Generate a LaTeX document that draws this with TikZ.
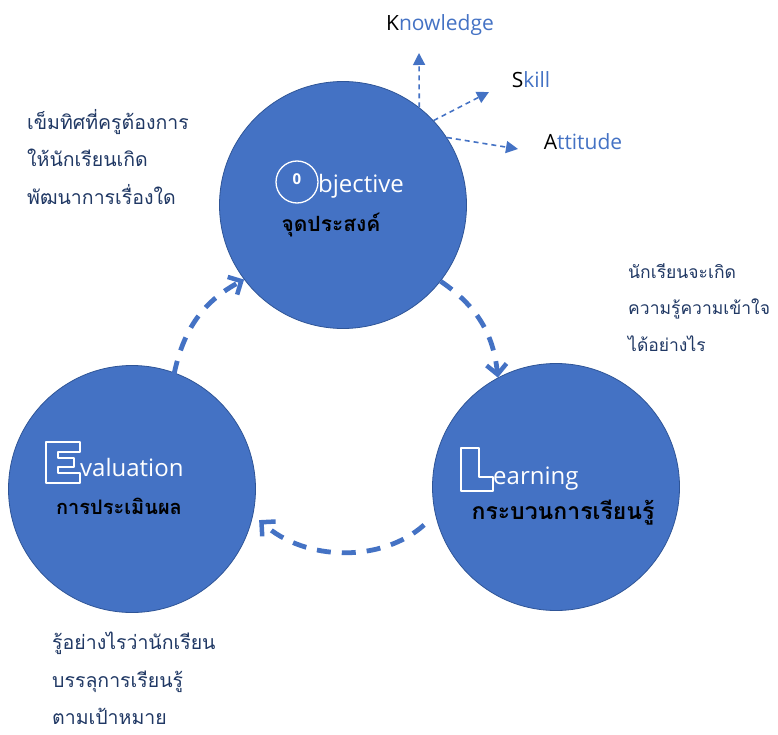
\documentclass[tikz,border=0pt]{standalone}
\usepackage{fontspec}
\setmainfont{Open Sans}
\newfontfamily\thaifont[Script=Thai]{Loma}
\usetikzlibrary{arrows.meta,calc}
\definecolor{cblue}{HTML}{4472C4}
\definecolor{cedge}{HTML}{2F5597}
\definecolor{navy}{HTML}{203864}
\tikzset{
  circ/.style={circle,fill=cblue,draw=cedge,line width=0.8pt,minimum size=247pt,inner sep=0pt},
  flow/.style={draw=cblue,line width=4.8pt,dash pattern=on 14pt off 11pt,
    -{Straight Barb[length=10pt,width=20pt,line width=4.5pt]}},
  ray/.style={draw=cblue,line width=1.6pt,dash pattern=on 5pt off 4pt,
    -{Triangle[length=12pt,width=12pt]}},
  enlabel/.style={font=\fontsize{21}{24}\selectfont,text=cblue,inner sep=0pt},
  intitle/.style={font=\fontsize{24}{28}\selectfont,text=white,inner sep=0pt,anchor=base west},
  inthai/.style={font=\thaifont\bfseries\fontsize{20}{24}\selectfont,text=black,inner sep=0pt},
  note/.style={font=\thaifont\fontsize{19.5}{37.5}\selectfont,text=navy,align=left,inner sep=0pt,anchor=north west}
  ,outl/.style={draw=white,line width=1.2pt,line join=round}
}
\begin{document}
\begin{tikzpicture}[x=1pt,y=-1pt]
\useasboundingbox (0,0) rectangle (778,735);
% circles
\node[circ] (obj) at (343,205) {};
\node[circ] (learn) at (556,487) {};
\node[circ] (eval) at (132,489) {};
% cycle arrows
\draw[flow,shorten <=-2pt] (eval.70) to[bend left=25] (obj.217);
\draw[flow] (obj.322) to[bend left=25] (learn.118);
\draw[flow,shorten <=15pt,shorten >=8pt] (learn.193) to[bend left=42] (eval.348);
% rays
\coordinate (kt) at (419,53);
\coordinate (st) at (489,92);
\coordinate (at) at (518,149);
\draw[ray] (obj.52) -- (kt);
\draw[ray] (obj.43) -- (st);
\draw[ray] (obj.33) -- (at);
\node[enlabel] (kn) at (440,25) {\textcolor{black}{K}nowledge};
\node[enlabel] (sk) at (531,80) {\textcolor{black}{S}kill};
\node[enlabel] (att) at (583,142) {\textcolor{black}{A}ttitude};
% Objective
\node[circle,draw=white,line width=1.3pt,minimum size=42pt,inner sep=0pt,
  font=\fontsize{15}{16}\selectfont\bfseries,text=white] (ocirc) at (297,182) {\raisebox{5pt}{0}};
\node[intitle] (objt) at (318,193) {bjective};
\node[inthai] (objth) at (331,225) {\fontsize{21}{24}\selectfont จุดประสงค์};
% Learning
\draw[outl] (461,448) -- (479,448) -- (479,477) -- (493,477) -- (493,491) -- (461,491) -- cycle;
\node[intitle] (learnt) at (493,484) {earning};
\node[inthai] (learnth) at (563,513) {\fontsize{23}{27}\selectfont กระบวนการเรียนรู้};
% Evaluation
\draw[outl] (46,442) -- (80,442) -- (80,452) -- (58,452) -- (58,458) -- (74,458)
  -- (74,467) -- (58,467) -- (58,473) -- (80,473) -- (80,483) -- (46,483) -- cycle;
\node[intitle] (evalt) at (80,476) {valuation};
\node[inthai] (evalth) at (119,506) {การประเมินผล};
% notes
\node[note] (n1) at (27,109) {เข็มทิศที่ครูต้องการ\\ให้นักเรียนเกิด\\พัฒนาการเรื่องใด};
\node[note,font=\thaifont\fontsize{17.5}{36.5}\selectfont] (n2) at (628,263) {นักเรียนจะเกิด\\ความรู้ความเข้าใจ\\ได้อย่างไร};
\node[note] (n3) at (52,632) {รู้อย่างไรว่านักเรียน\\บรรลุการเรียนรู้\\ตามเป้าหมาย};
\end{tikzpicture}
\end{document}
